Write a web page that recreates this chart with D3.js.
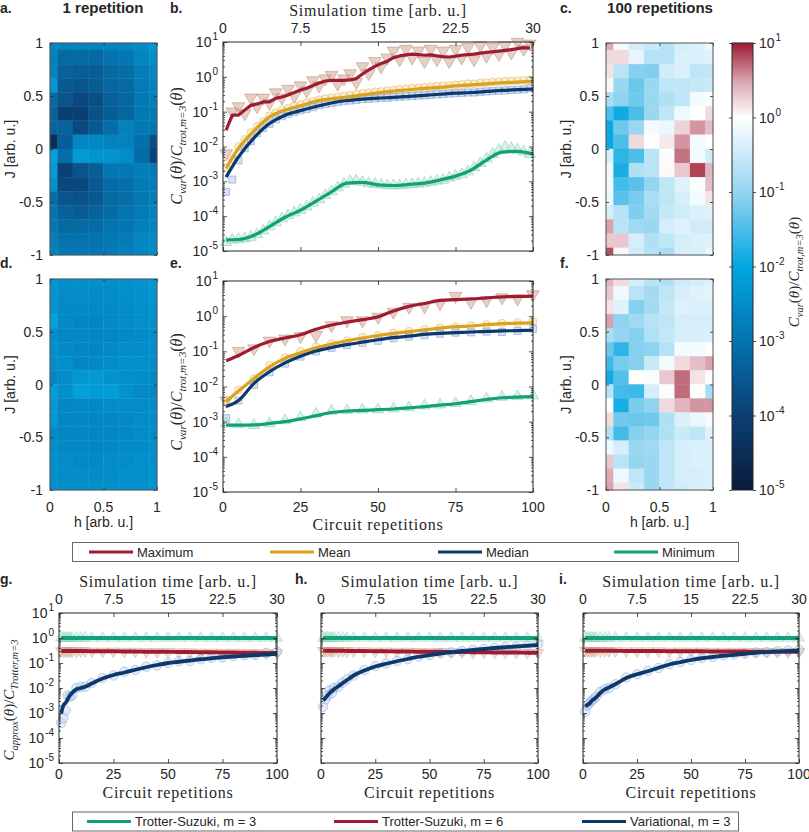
<!DOCTYPE html>
<html>
<head>
<meta charset="utf-8">
<script src="https://cdn.jsdelivr.net/npm/d3@7"></script>
<style>
  body { margin: 0; background: #fff; }
  text { font-family: "Liberation Sans", Arial, sans-serif; fill: #262626; }
  .serif { font-family: "Liberation Serif", "Times New Roman", serif; letter-spacing: 0.8px; }
  .bold { font-weight: bold; }
</style>
</head>
<body>
<script>
// ---- heatmap grids (log10 of cost ratio) ----
var hVals = d3.range(8).map(i => i / 7);
var jVals = d3.range(16).map(k => 1 - 2 * k / 15);

var heatA = [
  [-2.6, -2.7, -2.7, -2.7, -2.65, -2.6, -2.5, -2.3],
  [-2.7, -3.2, -3.2, -3.2, -3.0, -2.95, -2.65, -2.45],
  [-2.7, -3.3, -3.4, -3.4, -3.2, -3.1, -2.8, -2.6],
  [-2.3, -3.5, -3.55, -3.45, -3.25, -3.15, -2.85, -2.7],
  [-3.2, -3.6, -3.8, -3.7, -3.35, -3.25, -2.9, -2.8],
  [-3.3, -4.0, -4.0, -3.65, -3.4, -3.25, -2.9, -2.85],
  [-3.3, -3.3, -3.8, -3.5, -3.1, -2.75, -2.9, -2.95],
  [-4.5, -3.4, -2.6, -2.55, -2.7, -2.7, -3.05, -3.7],
  [-2.1, -3.1, -2.25, -2.35, -2.35, -2.5, -3.15, -3.9],
  [-2.2, -3.95, -3.6, -3.4, -2.95, -2.9, -2.8, -2.85],
  [-2.4, -3.85, -3.8, -3.5, -3.15, -3.05, -2.85, -2.8],
  [-3.1, -3.6, -3.65, -3.5, -3.2, -3.1, -2.9, -2.8],
  [-3.0, -3.35, -3.45, -3.3, -3.15, -3.0, -2.85, -2.7],
  [-2.9, -3.2, -3.2, -3.15, -3.0, -2.95, -2.75, -2.65],
  [-2.8, -3.0, -3.0, -3.0, -2.9, -2.85, -2.65, -2.55],
  [-2.7, -2.9, -2.9, -2.9, -2.85, -2.75, -2.6, -2.5]
];
var heatC = [
  [0.45, -0.1, -0.4, -0.5, -0.7, -0.4, -0.35, -0.2],
  [0.2, 0.2, -0.25, -0.7, -0.7, -0.35, -0.35, -0.3],
  [0.15, -0.65, -1.1, -1.15, -0.45, -0.35, -0.6, -0.6],
  [0.05, -0.95, -1.3, -0.95, -0.6, -0.6, -0.55, -0.5],
  [-0.8, -1.05, -1.25, -0.95, -0.75, -0.6, -0.1, -0.05],
  [-1.5, -1.9, -1.5, -0.95, -0.6, -0.15, 0.0, 0.2],
  [-1.95, -1.25, -0.95, -0.1, -0.2, 0.25, 0.55, 0.35],
  [-1.95, -1.5, 0.2, -0.03, 0.12, 0.55, -0.12, 0.0],
  [-0.4, -1.7, -1.5, -0.65, -0.05, 0.68, -0.1, -0.45],
  [-0.15, -1.85, -0.75, -0.65, 0.03, 0.3, 0.85, 0.4],
  [-0.15, -1.55, -1.4, -1.0, -0.6, -0.3, -0.05, 0.35],
  [-0.2, -1.4, -1.2, -0.8, -0.6, -0.4, -0.1, 0.15],
  [-0.4, -0.7, -1.15, -0.85, -0.55, -0.45, -0.35, -0.3],
  [0.5, -0.65, -0.9, -0.95, -0.4, -0.3, -0.45, -0.45],
  [0.3, 0.3, -0.4, -0.75, -0.6, -0.4, -0.35, -0.3],
  [0.8, 0.05, -0.45, -0.7, -0.8, -0.4, -0.4, -0.2]
];
var heatD = [
  [-2.35, -2.45, -2.45, -2.45, -2.45, -2.4, -2.35, -2.3],
  [-2.4, -2.5, -2.5, -2.5, -2.5, -2.45, -2.4, -2.35],
  [-2.4, -2.55, -2.55, -2.55, -2.55, -2.5, -2.45, -2.4],
  [-2.1, -2.55, -2.6, -2.6, -2.55, -2.5, -2.45, -2.45],
  [-2.5, -2.6, -2.6, -2.6, -2.6, -2.55, -2.5, -2.45],
  [-2.45, -2.55, -2.6, -2.6, -2.55, -2.5, -2.5, -2.45],
  [-2.5, -2.45, -2.6, -2.55, -2.5, -2.4, -2.45, -2.5],
  [-2.6, -2.5, -2.3, -2.25, -2.4, -2.45, -2.5, -2.55],
  [-2.2, -2.45, -2.1, -2.2, -2.2, -2.4, -2.55, -2.6],
  [-2.25, -2.6, -2.55, -2.55, -2.5, -2.5, -2.5, -2.5],
  [-2.3, -2.6, -2.6, -2.6, -2.6, -2.55, -2.5, -2.5],
  [-2.55, -2.6, -2.6, -2.6, -2.6, -2.55, -2.5, -2.5],
  [-2.5, -2.55, -2.6, -2.6, -2.55, -2.5, -2.5, -2.45],
  [-2.45, -2.5, -2.55, -2.55, -2.5, -2.5, -2.45, -2.45],
  [-2.45, -2.5, -2.5, -2.5, -2.5, -2.45, -2.45, -2.4],
  [-2.4, -2.45, -2.45, -2.45, -2.45, -2.4, -2.4, -2.4]
];
var heatF = [
  [0.4, 0.2, -0.4, -0.65, -0.75, -0.45, -0.4, -0.3],
  [0.3, -0.15, -0.65, -0.85, -0.6, -0.4, -0.3, -0.25],
  [0.15, -0.3, -1.1, -0.85, -0.55, -0.3, -0.35, -0.35],
  [0.5, -1.05, -0.9, -0.7, -0.6, -0.4, -0.4, -0.4],
  [-0.8, -1.0, -1.1, -0.75, -0.55, -0.4, -0.4, -0.35],
  [-1.3, -1.7, -1.1, -1.05, -0.7, -0.1, -0.1, 0.0],
  [-1.6, -1.2, -1.1, -0.5, -0.1, 0.2, 0.35, 0.5],
  [-1.9, -1.45, 0.0, -0.05, 0.3, 0.7, 0.15, -0.05],
  [-0.7, -1.55, -1.6, -0.4, -0.05, 0.7, 0.0, -0.8],
  [0.0, -1.85, -1.2, -1.05, 0.2, 0.4, 0.55, 0.55],
  [0.2, -1.25, -1.3, -1.25, -0.75, -0.35, -0.2, -0.1],
  [-0.75, -1.55, -1.1, -1.0, -0.75, -0.5, -0.6, -0.3],
  [-0.15, -0.4, -0.95, -0.9, -0.6, -0.4, -0.35, -0.35],
  [0.3, -0.65, -1.0, -0.95, -0.6, -0.4, -0.35, -0.35],
  [0.45, -0.15, -0.6, -0.95, -0.6, -0.4, -0.4, -0.35],
  [0.5, 0.15, -0.5, -0.95, -0.6, -0.45, -0.4, -0.35]
];

// ---- panel b / e series (log10 of ratio) vs circuit repetitions ----
var repsB = d3.range(1, 100, 2);
var repsL = [1, 5, 10, 15, 20, 25, 30, 35, 40, 45, 50, 55, 60, 65, 70, 75, 80, 85, 90, 95, 100];

var maxLineB = [-1.53, -1.1, -1.1, -0.95, -0.82, -0.78, -0.72, -0.72, -0.62, -0.58,
  -0.52, -0.45, -0.38, -0.33, -0.25, -0.18, -0.12, -0.1, -0.1, -0.1,
  -0.09, -0.05, 0.08, 0.2, 0.3, 0.38, 0.45, 0.55, 0.6, 0.63,
  0.65, 0.64, 0.62, 0.63, 0.6, 0.58, 0.57, 0.59, 0.62, 0.64,
  0.65, 0.68, 0.7, 0.72, 0.74, 0.76, 0.78, 0.81, 0.84, 0.82];
var maxMarkB = [-2.2, -1.0, -0.85, -1.05, -0.6, -0.85, -0.6, -0.75, -0.45, -0.6,
  -0.35, -0.55, -0.25, -0.4, -0.1, -0.25, -0.05, 0.05, -0.2, -0.05,
  0.1, -0.15, 0.3, 0.1, 0.45, 0.3, 0.55, 0.75, 0.5, 0.8,
  0.55, 0.75, 0.45, 0.8, 0.5, 0.75, 0.45, 0.8, 0.55, 0.85,
  0.5, 0.9, 0.6, 0.85, 0.65, 0.9, 0.7, 1.0, 0.8, 0.95];
var meanLineB = [-2.63, -2.05, -1.55, -1.15, -0.95, -0.83, -0.7, -0.63, -0.58, -0.52, -0.46,
  -0.41, -0.37, -0.33, -0.3, -0.26, -0.23, -0.2, -0.17, -0.15, -0.13];
var meanMarkB = [-2.6, -2.35, -2.0, -1.8, -1.6, -1.42, -1.28, -1.12, -1.03, -0.95,
  -0.9, -0.84, -0.8, -0.75, -0.7, -0.66, -0.63, -0.6, -0.58, -0.55,
  -0.53, -0.5, -0.48, -0.46, -0.43, -0.42, -0.4, -0.38, -0.36, -0.35,
  -0.33, -0.32, -0.3, -0.29, -0.27, -0.26, -0.25, -0.23, -0.22, -0.2,
  -0.2, -0.18, -0.17, -0.15, -0.14, -0.13, -0.12, -0.11, -0.1, -0.09];
var medLineB = [-2.88, -2.3, -1.75, -1.34, -1.1, -0.97, -0.85, -0.75, -0.68, -0.64, -0.61,
  -0.59, -0.56, -0.53, -0.5, -0.47, -0.45, -0.42, -0.39, -0.37, -0.35];
var medMarkB = [-3.3, -2.95, -2.4, -2.05, -1.85, -1.62, -1.47, -1.35, -1.22, -1.13,
  -1.06, -1.01, -0.96, -0.92, -0.87, -0.82, -0.78, -0.75, -0.72, -0.69,
  -0.68, -0.66, -0.64, -0.63, -0.62, -0.6, -0.6, -0.58, -0.57, -0.56,
  -0.55, -0.54, -0.53, -0.52, -0.5, -0.5, -0.48, -0.47, -0.46, -0.45,
  -0.45, -0.43, -0.42, -0.41, -0.4, -0.39, -0.38, -0.37, -0.36, -0.33];
var minLineB = [-4.68, -4.67, -4.55, -4.3, -4.03, -3.83, -3.57, -3.3, -3.05, -3.03, -3.1,
  -3.12, -3.09, -3.05, -2.96, -2.85, -2.68, -2.39, -2.16, -2.14, -2.22];
var minMarkB = [-4.75, -4.68, -4.66, -4.64, -4.6, -4.52, -4.42, -4.3, -4.18, -4.07,
  -3.98, -3.9, -3.82, -3.73, -3.62, -3.52, -3.4, -3.29, -3.18, -3.08,
  -3.0, -2.98, -3.02, -3.06, -3.08, -3.1, -3.12, -3.12, -3.12, -3.1,
  -3.09, -3.07, -3.05, -3.02, -2.99, -2.96, -2.9, -2.85, -2.8, -2.72,
  -2.6, -2.48, -2.35, -2.22, -2.1, -2.02, -2.05, -2.1, -2.15, -2.22];

var maxLineE = [-1.27, -1.12, -0.89, -0.72, -0.62, -0.53, -0.37, -0.25, -0.17, -0.1, -0.02,
  0.15, 0.28, 0.36, 0.45, 0.47, 0.49, 0.52, 0.55, 0.56, 0.57];
var maxMarkE = [-2.4, -0.99, -0.92, -0.7, -0.64, -0.57, -0.54, -0.26, -0.12, -0.12, -0.02,
  0.12, 0.26, 0.28, 0.36, 0.57, 0.4, 0.45, 0.53, 0.5, 0.62];
var meanLineE = [-2.43, -2.13, -1.77, -1.44, -1.2, -1.04, -0.9, -0.79, -0.7, -0.62, -0.55,
  -0.49, -0.44, -0.39, -0.34, -0.3, -0.28, -0.24, -0.21, -0.2, -0.19];
var meanMarkE = [-2.4, -2.1, -1.78, -1.4, -1.18, -1.0, -0.87, -0.78, -0.7, -0.6, -0.55,
  -0.48, -0.43, -0.37, -0.33, -0.3, -0.27, -0.24, -0.2, -0.18, -0.15];
var medLineE = [-2.57, -2.4, -1.91, -1.58, -1.33, -1.14, -0.99, -0.89, -0.81, -0.74, -0.67,
  -0.61, -0.57, -0.52, -0.49, -0.47, -0.45, -0.43, -0.42, -0.41, -0.4];
var medMarkE = [-2.9, -2.4, -1.95, -1.6, -1.35, -1.15, -1.0, -0.9, -0.82, -0.76, -0.7,
  -0.63, -0.58, -0.54, -0.5, -0.47, -0.46, -0.44, -0.45, -0.42, -0.36];
var minLineE = [-3.09, -3.1, -3.09, -3.05, -3.0, -2.92, -2.83, -2.74, -2.7, -2.68, -2.66,
  -2.64, -2.61, -2.57, -2.53, -2.49, -2.43, -2.37, -2.32, -2.3, -2.29];
var minMarkE = [-3.05, -3.08, -3.1, -3.05, -2.97, -2.88, -2.78, -2.7, -2.68, -2.66, -2.66,
  -2.63, -2.6, -2.55, -2.52, -2.48, -2.42, -2.35, -2.3, -2.28, -2.26];

// ---- panels g / h / i ----
var repsBot = [1, 2, 3, 4, 5, 6, 8, 10, 12, 15, 20, 25, 30, 35, 40, 45, 50, 55, 60, 65, 70, 75, 80, 85, 90, 95, 100];
var ts3 = [0, 0, 0, 0, 0, 0, 0, 0, 0, 0, 0, 0, 0, 0, 0, 0, 0, 0, 0, 0, 0, 0, 0, 0, 0, 0, 0];
var ts6G = [-0.52, -0.52, -0.52, -0.52, -0.52, -0.52, -0.52, -0.52, -0.52, -0.53, -0.53, -0.53, -0.54, -0.54,
  -0.55, -0.55, -0.55, -0.56, -0.56, -0.57, -0.57, -0.58, -0.58, -0.59, -0.59, -0.6, -0.6];
var ts6H = [-0.51, -0.51, -0.51, -0.51, -0.51, -0.51, -0.51, -0.51, -0.52, -0.52, -0.52, -0.53, -0.53, -0.54,
  -0.54, -0.55, -0.55, -0.55, -0.56, -0.56, -0.57, -0.57, -0.58, -0.58, -0.58, -0.59, -0.59];
var ts6I = [-0.51, -0.51, -0.51, -0.51, -0.51, -0.51, -0.51, -0.51, -0.51, -0.51, -0.52, -0.52, -0.52, -0.52,
  -0.53, -0.53, -0.53, -0.53, -0.54, -0.54, -0.54, -0.54, -0.55, -0.55, -0.55, -0.55, -0.55];
var varLineG = [-3.0, -2.7, -2.6, -2.45, -2.3, -2.2, -2.05, -2.0, -1.95, -1.82, -1.62, -1.48, -1.38, -1.27,
  -1.17, -1.08, -1.0, -0.95, -0.9, -0.85, -0.81, -0.77, -0.74, -0.71, -0.68, -0.66, -0.63];
var varMarkG = [-3.4, -3.2, -2.9, -2.3, -2.35, -2.3, -2.0, -1.95, -1.95, -1.8, -1.6, -1.5, -1.35, -1.28,
  -1.15, -1.1, -1.0, -0.93, -0.92, -0.85, -0.8, -0.78, -0.72, -0.7, -0.68, -0.6, -0.55];
var varLineH = [-2.5, -2.4, -2.3, -2.2, -2.12, -2.05, -1.93, -1.8, -1.68, -1.5, -1.3, -1.14, -1.03, -0.93,
  -0.84, -0.75, -0.68, -0.62, -0.57, -0.52, -0.48, -0.44, -0.4, -0.37, -0.34, -0.31, -0.28];
var varMarkH = [-2.75, -2.45, -2.3, -2.1, -2.2, -2.0, -1.95, -1.78, -1.65, -1.5, -1.28, -1.12, -1.02, -0.92,
  -0.85, -0.74, -0.68, -0.6, -0.57, -0.52, -0.47, -0.44, -0.4, -0.36, -0.34, -0.3, -0.25];
var varLineI = [-2.72, -2.68, -2.62, -2.52, -2.45, -2.38, -2.2, -2.06, -1.98, -1.85, -1.6, -1.45, -1.33, -1.19,
  -1.06, -0.97, -0.88, -0.81, -0.76, -0.71, -0.67, -0.63, -0.59, -0.56, -0.54, -0.52, -0.51];
var varMarkI = [-2.95, -2.7, -2.6, -2.5, -2.45, -2.35, -2.15, -2.05, -2.0, -1.85, -1.58, -1.45, -1.32, -1.2,
  -1.05, -0.96, -0.88, -0.8, -0.76, -0.7, -0.66, -0.62, -0.58, -0.56, -0.53, -0.5, -0.48];

// ---- ticks ----
var repTicks = [0, 25, 50, 75, 100];
var timeTicks = ['0', '7.5', '15', '22.5', '30'];
var decades = [-5, -4, -3, -2, -1, 0, 1];
var jTicks = [1, 0.5, 0, -0.5, -1];
var hTicks = [0, 0.5, 1];

// ---- colours ----
var C_MAX = '#9e1b32', C_MEAN = '#dca21f', C_MED = '#0c386b', C_MIN = '#13a07c';
var color = d3.scaleLinear()
  .domain([-5, -4, -3, -2, -1, 0, 0.5, 1])
  .range(['#0a1c3a', '#0b3f73', '#0473ae', '#02a6e1', '#95d5f0', '#ffffff', '#d9a2ad', '#9c1c31'])
  .clamp(true);

var svg = d3.select('body').append('svg').attr('width', 809).attr('height', 832);
var INK = '#262626';

function tickAxis(axisFn, scale, vals, len, tx, ty) {
  var g = svg.append('g').attr('transform', 'translate(' + tx + ',' + ty + ')')
    .call(axisFn(scale).tickValues(vals).tickSize(-len).tickFormat(''));
  g.select('.domain').remove();
  g.selectAll('line').attr('stroke', INK).attr('stroke-width', 0.8);
}

function frame(x0, y0, w, h) {
  svg.append('rect').attr('x', x0).attr('y', y0).attr('width', w).attr('height', h)
    .attr('fill', 'none').attr('stroke', INK).attr('stroke-width', 1);
}

function label(x, y, txt, size, anchor, cls) {
  return svg.append('text').attr('x', x).attr('y', y).attr('font-size', size)
    .attr('text-anchor', anchor || 'start').attr('class', cls || null).text(txt);
}

function powLabel(x, y, e, anchor) {
  var t = svg.append('text').attr('x', x).attr('y', y).attr('font-size', 14).attr('text-anchor', anchor);
  t.append('tspan').text('10');
  t.append('tspan').attr('dx', 1).attr('dy', -7).attr('font-size', 10).text(e);
}

function rotLabel(x, y, txt, size, cls) {
  return svg.append('text').attr('transform', 'translate(' + x + ',' + y + ') rotate(-90)')
    .attr('font-size', size).attr('text-anchor', 'middle').attr('class', cls || null).text(txt);
}

function ratioLabel(x, y, sub1, sub2, tail, size) {
  var t = svg.append('text').attr('transform', 'translate(' + x + ',' + y + ') rotate(-90)')
    .attr('font-size', size).attr('text-anchor', 'middle')
    .style('font-family', '"Liberation Serif", serif');
  var s = size * 0.7, d = size * 0.28;
  t.append('tspan').attr('font-style', 'italic').text('C');
  t.append('tspan').attr('font-style', 'italic').attr('font-size', s).attr('dy', d).text(sub1);
  t.append('tspan').attr('dy', -d).text('(');
  t.append('tspan').attr('font-style', 'italic').text('θ');
  t.append('tspan').text(')/');
  t.append('tspan').attr('font-style', 'italic').text('C');
  t.append('tspan').attr('font-style', 'italic').attr('font-size', s).attr('dy', d).text(sub2);
  if (tail) {
    t.append('tspan').attr('dy', -d).text('(');
    t.append('tspan').attr('font-style', 'italic').text('θ');
    t.append('tspan').text(')');
  }
}

// ---- heatmap panels ----
function heatmap(data, x0, y0, w, h, showX) {
  var x = d3.scaleLinear().domain([0, 1]).range([x0, x0 + w]);
  var y = d3.scaleLinear().domain([-1, 1]).range([y0 + h, y0]);
  var dh = 0.5 / (hVals.length - 1), dj = 1 / (jVals.length - 1);
  var cells = [];
  data.forEach((row, k) => row.forEach((v, i) => cells.push({ h: hVals[i], j: jVals[k], v: v })));
  svg.append('g').selectAll('rect').data(cells).enter().append('rect')
    .attr('x', d => x(Math.max(0, d.h - dh)))
    .attr('width', d => x(Math.min(1, d.h + dh)) - x(Math.max(0, d.h - dh)))
    .attr('y', d => y(Math.min(1, d.j + dj)))
    .attr('height', d => y(Math.max(-1, d.j - dj)) - y(Math.min(1, d.j + dj)))
    .attr('fill', d => color(d.v))
    .attr('stroke', d => color(d.v)).attr('stroke-width', 0.4);
  tickAxis(d3.axisBottom, x, hTicks, 3, 0, y0 + h);
  tickAxis(d3.axisTop, x, hTicks, 3, 0, y0);
  tickAxis(d3.axisLeft, y, jTicks, 3, x0, 0);
  tickAxis(d3.axisRight, y, jTicks, 3, x0 + w, 0);
  svg.append('rect').attr('x', x0).attr('y', y0).attr('width', w).attr('height', h)
    .attr('fill', 'none').attr('stroke', '#555').attr('stroke-width', 1);
  jTicks.forEach(t => label(x0 - 7, y(t) + 5, String(t), 14, 'end'));
  rotLabel(x0 - 35, y0 + h / 2, 'J [arb. u.]', 14);
  if (showX) {
    hTicks.forEach(t => label(x(t), y0 + h + 22, String(t), 14, 'middle'));
    label(x0 + w / 2, y0 + h + 37, 'h [arb. u.]', 14, 'middle');
  }
}

// ---- log-scale line panels ----
function logPanel(x0, y0, w, h) {
  return {
    x0: x0, y0: y0, w: w, h: h,
    x: d3.scaleLinear().domain([0, 100]).range([x0, x0 + w]),
    y: d3.scaleLog().domain([1e-5, 10]).range([y0 + h, y0])
  };
}

function panelAxes(p, opt) {
  var dec = decades.map(e => Math.pow(10, e));
  var minor = [];
  decades.slice(0, -1).forEach(e => d3.range(2, 10).forEach(k => minor.push(k * Math.pow(10, e))));
  tickAxis(d3.axisBottom, p.x, repTicks, 4, 0, p.y0 + p.h);
  tickAxis(d3.axisTop, p.x, repTicks, 4, 0, p.y0);
  tickAxis(d3.axisLeft, p.y, dec, 4, p.x0, 0);
  tickAxis(d3.axisRight, p.y, dec, 4, p.x0 + p.w, 0);
  tickAxis(d3.axisLeft, p.y, minor, 2, p.x0, 0);
  tickAxis(d3.axisRight, p.y, minor, 2, p.x0 + p.w, 0);
  frame(p.x0, p.y0, p.w, p.h);
  if (opt.yLabels) decades.forEach(e => powLabel(p.x0 - 5, p.y(Math.pow(10, e)) + 5, String(e), 'end'));
  if (opt.top) {
    repTicks.forEach((t, i) => label(p.x(t), p.y0 - opt.top, timeTicks[i], 14, 'middle'));
    label(p.x0 + p.w / 2, p.y0 - opt.top - 17, 'Simulation time [arb. u.]', 16, 'middle', 'serif');
  }
  if (opt.bottom) {
    repTicks.forEach(t => label(p.x(t), p.y0 + p.h + opt.bottom[0], String(t), 14, 'middle'));
    label(p.x0 + p.w / 2, p.y0 + p.h + opt.bottom[1], 'Circuit repetitions', 16, 'middle', 'serif');
  }
}

function drawMarkers(p, reps, vals, shape, size, fill, stroke) {
  var sym = d3.symbol().type(shape === 'square' ? d3.symbolSquare : shape === 'circle' ? d3.symbolCircle : d3.symbolTriangle).size(size);
  svg.append('g').selectAll('path').data(vals).enter().append('path')
    .attr('transform', (d, i) => 'translate(' + p.x(reps[i]) + ',' + p.y(Math.pow(10, d)) + ')' + (shape === 'down' ? ' rotate(180)' : ''))
    .attr('d', sym)
    .attr('fill', fill).attr('stroke', stroke).attr('stroke-width', 0.8);
}

function drawLine(p, reps, vals, col, width, curve) {
  var line = d3.line()
    .x((d, i) => p.x(reps[i]))
    .y(d => p.y(Math.pow(10, d)))
    .curve(curve || d3.curveMonotoneX);
  svg.append('path').datum(vals).attr('d', line)
    .attr('fill', 'none').attr('stroke', col).attr('stroke-width', width)
    .attr('stroke-linejoin', 'round').attr('stroke-linecap', 'butt');
}

var MK = {
  max: ['rgba(205,160,140,0.5)', 'rgba(175,120,100,0.55)'],
  mean: ['rgba(245,220,160,0.45)', 'rgba(220,175,70,0.6)'],
  med: ['rgba(185,205,235,0.6)', 'rgba(120,155,210,0.7)'],
  min: ['rgba(180,228,208,0.5)', 'rgba(110,200,160,0.6)']
};

// ---- panel letters and titles ----
label(0, 13, 'a.', 14, 'start', 'bold');
label(103, 13, '1 repetition', 15, 'middle', 'bold');
label(170, 13, 'b.', 14, 'start', 'bold');
label(560, 13, 'c.', 14, 'start', 'bold');
label(660, 13, '100 repetitions', 15, 'middle', 'bold');
label(0, 268, 'd.', 14, 'start', 'bold');
label(170, 268, 'e.', 14, 'start', 'bold');
label(560, 268, 'f.', 14, 'start', 'bold');
label(0, 584, 'g.', 14, 'start', 'bold');
label(295, 584, 'h.', 14, 'start', 'bold');
label(559, 584, 'i.', 14, 'start', 'bold');

// ---- heatmaps ----
heatmap(heatA, 50, 43, 107, 212, false);
heatmap(heatC, 606, 43, 107, 212, false);
heatmap(heatD, 50, 279, 107, 211, true);
heatmap(heatF, 606, 279, 107, 211, true);

// ---- colour bar ----
var cbY = d3.scaleLinear().domain([-5, 1]).range([490, 43]);
var grad = svg.append('defs').append('linearGradient').attr('id', 'cb')
  .attr('x1', 0).attr('y1', 1).attr('x2', 0).attr('y2', 0);
grad.selectAll('stop').data(d3.range(-5, 1.001, 0.1)).enter().append('stop')
  .attr('offset', d => (d + 5) / 6).attr('stop-color', d => color(d));
svg.append('rect').attr('x', 732).attr('y', 43).attr('width', 21).attr('height', 447).attr('fill', 'url(#cb)');
tickAxis(d3.axisRight, cbY, decades, 3, 732, 0);
tickAxis(d3.axisLeft, cbY, decades, 3, 753, 0);
frame(732, 43, 21, 447);
decades.forEach(e => powLabel(759, cbY(e) + 5, String(e), 'start'));
ratioLabel(799, 272, 'var', 'trot,m=3', true, 15);

// ---- panel b ----
var pb = logPanel(223, 42, 310, 209);
drawMarkers(pb, repsB, maxMarkB, 'down', 70, MK.max[0], MK.max[1]);
drawMarkers(pb, repsB, meanMarkB, 'circle', 50, MK.mean[0], MK.mean[1]);
drawMarkers(pb, repsB, medMarkB, 'square', 50, MK.med[0], MK.med[1]);
drawMarkers(pb, repsB, minMarkB, 'triangle', 55, MK.min[0], MK.min[1]);
drawLine(pb, repsB, maxLineB, C_MAX, 3.2, d3.curveLinear);
drawLine(pb, repsL, meanLineB, C_MEAN, 3.2);
drawLine(pb, repsL, medLineB, C_MED, 3.2);
drawLine(pb, repsL, minLineB, C_MIN, 3.2);
panelAxes(pb, { yLabels: true, top: 9 });
ratioLabel(182, 146, 'var', 'trot,m=3', true, 16);

// ---- panel e ----
var pe = logPanel(223, 281, 310, 211);
drawMarkers(pe, repsL, maxMarkE, 'down', 70, MK.max[0], MK.max[1]);
drawMarkers(pe, repsL, meanMarkE, 'circle', 50, MK.mean[0], MK.mean[1]);
drawMarkers(pe, repsL, medMarkE, 'square', 50, MK.med[0], MK.med[1]);
drawMarkers(pe, repsL, minMarkE, 'triangle', 55, MK.min[0], MK.min[1]);
drawLine(pe, repsL, maxLineE, C_MAX, 3.2);
drawLine(pe, repsL, meanLineE, C_MEAN, 3.2);
drawLine(pe, repsL, medLineE, C_MED, 3.2);
drawLine(pe, repsL, minLineE, C_MIN, 3.2);
panelAxes(pe, { yLabels: true, bottom: [20, 38] });
ratioLabel(182, 392, 'var', 'trot,m=3', true, 16);

// ---- legend 1 ----
function legend(y0, items) {
  svg.append('rect').attr('x', 72.5).attr('y', y0).attr('width', 666).attr('height', 19)
    .attr('fill', '#fff').attr('stroke', '#666').attr('stroke-width', 1);
  items.forEach(it => {
    svg.append('line').attr('x1', it.x).attr('x2', it.x + 44).attr('y1', y0 + 9.5).attr('y2', y0 + 9.5)
      .attr('stroke', it.c).attr('stroke-width', 3);
    label(it.x + 48, y0 + 14, it.t, 13);
  });
}
legend(542.5, [
  { t: 'Maximum', c: C_MAX, x: 89 },
  { t: 'Mean', c: C_MEAN, x: 270 },
  { t: 'Median', c: C_MED, x: 438 },
  { t: 'Minimum', c: C_MIN, x: 614 }
]);

// ---- panels g, h, i ----
var bottomSets = [
  { x0: 59, w: 218, ts6: ts6G, vl: varLineG, vm: varMarkG, yl: true },
  { x0: 321, w: 217, ts6: ts6H, vl: varLineH, vm: varMarkH, yl: false },
  { x0: 583, w: 216, ts6: ts6I, vl: varLineI, vm: varMarkI, yl: false }
];
bottomSets.forEach(s => {
  var p = logPanel(s.x0, 613, s.w, 150);
  drawMarkers(p, repsBot, ts3, 'triangle', 55, 'rgba(170,225,200,0.4)', 'rgba(120,205,170,0.5)');
  drawMarkers(p, repsBot, s.ts6, 'down', 55, 'rgba(220,180,155,0.4)', 'rgba(200,150,120,0.5)');
  drawMarkers(p, repsBot, s.vm, 'circle', 70, 'rgba(190,208,238,0.4)', 'rgba(120,160,215,0.6)');
  drawLine(p, repsBot, ts3, C_MIN, 3.8);
  drawLine(p, repsBot, s.ts6, C_MAX, 3.8);
  drawLine(p, repsBot, s.vl, C_MED, 3.8);
  panelAxes(p, { yLabels: s.yl, top: 9, bottom: [16, 35] });
});
ratioLabel(14, 700, 'approx', 'Trotter,m=3', false, 15);

legend(812, [
  { t: 'Trotter-Suzuki, m = 3', c: C_MIN, x: 87 },
  { t: 'Trotter-Suzuki, m = 6', c: C_MAX, x: 334 },
  { t: 'Variational, m = 3', c: C_MED, x: 582 }
]);
</script>
</body>
</html>
